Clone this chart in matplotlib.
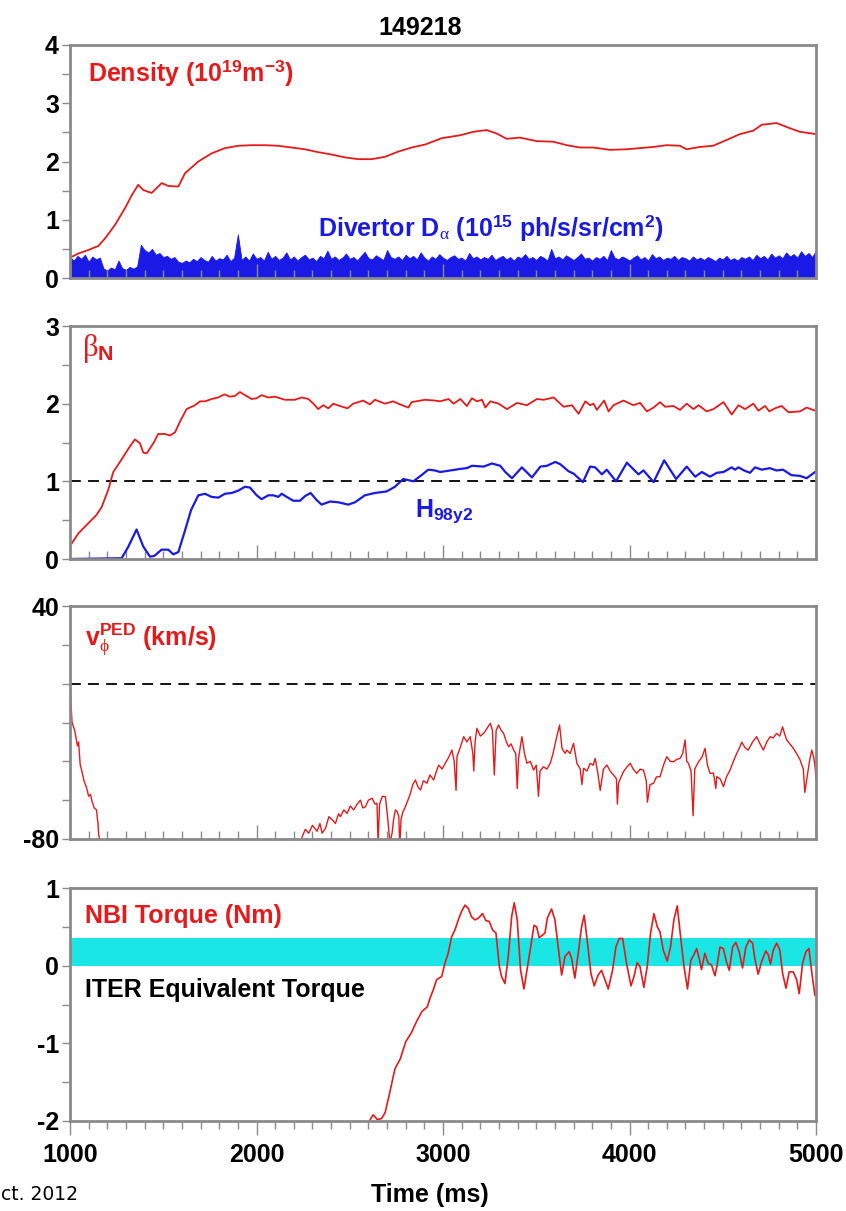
import numpy as np
import matplotlib
matplotlib.use("Agg")
import matplotlib.pyplot as plt
from matplotlib.ticker import MultipleLocator, FixedLocator

plt.rcParams['font.family'] = ['Liberation Sans', 'DejaVu Sans']
plt.rcParams['axes.unicode_minus'] = False
plt.rcParams['mathtext.fontset'] = 'custom'
plt.rcParams['mathtext.rm'] = 'Liberation Sans:weight=bold'
plt.rcParams['mathtext.bf'] = 'Liberation Sans:weight=bold'
plt.rcParams['mathtext.it'] = 'Liberation Serif:weight=normal'
plt.rcParams['mathtext.sf'] = 'Liberation Sans:weight=bold'

RED = '#e61a1a'
BLUE = '#1a1ae6'
CYAN = '#1ae6e6'
GRAY = '#8a8a8a'

# ---------------- data ----------------
shot = "149218"

dens_t = [1000, 1045, 1098, 1152, 1188, 1241, 1295, 1331, 1366, 1393, 1438, 1492, 1527,
          1581, 1617, 1688, 1760, 1831, 1902, 1974, 2045, 2117, 2188, 2260, 2331, 2403,
          2475, 2546, 2617, 2689, 2760, 2832, 2903, 2993, 3091, 3163, 3234, 3288, 3341,
          3413, 3502, 3592, 3664, 3735, 3806, 3896, 3985, 4056, 4128, 4199, 4271, 4306,
          4378, 4449, 4521, 4592, 4664, 4709, 4789, 4861, 4914, 5000]
dens_v = [0.35, 0.42, 0.48, 0.55, 0.68, 0.91, 1.20, 1.42, 1.60, 1.51, 1.46, 1.63, 1.58,
          1.57, 1.80, 2.00, 2.14, 2.23, 2.27, 2.28, 2.28, 2.27, 2.24, 2.21, 2.16, 2.12,
          2.07, 2.04, 2.04, 2.08, 2.17, 2.24, 2.29, 2.40, 2.45, 2.51, 2.54, 2.48, 2.39,
          2.41, 2.35, 2.34, 2.28, 2.24, 2.24, 2.20, 2.21, 2.23, 2.25, 2.28, 2.27, 2.21,
          2.25, 2.27, 2.37, 2.47, 2.53, 2.63, 2.66, 2.57, 2.51, 2.47]

# Divertor D-alpha upper envelope, sampled every 20 ms from 1000 to 5000 ms
dalpha_t = np.arange(1000, 5001, 20)
dalpha_v = [0.36, 0.30, 0.38, 0.33, 0.40, 0.28, 0.37, 0.32, 0.35,
            0.16, 0.13, 0.18, 0.15, 0.30, 0.17, 0.14, 0.19, 0.16, 0.20,
            0.57, 0.48, 0.44, 0.50, 0.40, 0.43, 0.36, 0.38, 0.33, 0.36, 0.28, 0.26,
            0.30, 0.27, 0.33, 0.29, 0.36, 0.31, 0.28, 0.38, 0.30, 0.34,
            0.32, 0.40, 0.29, 0.35, 0.75, 0.31, 0.37, 0.30, 0.42, 0.33,
            0.36, 0.30, 0.45, 0.33, 0.38, 0.31, 0.35, 0.44, 0.32, 0.37,
            0.30, 0.36, 0.40, 0.32, 0.35, 0.29, 0.38, 0.34, 0.47, 0.33,
            0.37, 0.31, 0.35, 0.42, 0.33, 0.36, 0.30, 0.38, 0.45, 0.34,
            0.32, 0.39, 0.35, 0.31, 0.48, 0.36, 0.33, 0.37, 0.31, 0.40,
            0.34, 0.38, 0.32, 0.44, 0.35, 0.30, 0.37, 0.33, 0.41, 0.35,
            0.31, 0.36, 0.39, 0.33, 0.35, 0.30, 0.43, 0.34, 0.37, 0.32,
            0.36, 0.33, 0.40, 0.31, 0.35, 0.38, 0.32, 0.36, 0.30, 0.37,
            0.34, 0.41, 0.33, 0.36, 0.31, 0.38, 0.35, 0.30, 0.50, 0.34,
            0.37, 0.32, 0.39, 0.35, 0.31, 0.36, 0.42, 0.33, 0.35, 0.30,
            0.36, 0.33, 0.38, 0.31, 0.48, 0.35, 0.32, 0.37, 0.34, 0.30,
            0.35, 0.39, 0.32, 0.36, 0.30, 0.41, 0.34, 0.37, 0.31, 0.35,
            0.33, 0.38, 0.31, 0.36, 0.34, 0.30, 0.37, 0.32, 0.35, 0.31,
            0.36, 0.33, 0.29, 0.35, 0.32, 0.38, 0.31, 0.34, 0.30, 0.36,
            0.33, 0.37, 0.31, 0.40, 0.34, 0.38, 0.32, 0.42, 0.35, 0.39,
            0.34, 0.44, 0.37, 0.41, 0.35, 0.46, 0.38, 0.43, 0.36, 0.48]

betan_t = [1009, 1045, 1098, 1143, 1170, 1205, 1232, 1268, 1313, 1348, 1375, 1393, 1411,
           1447, 1473, 1509, 1536, 1563, 1590, 1625, 1670, 1697, 1724, 1759, 1795, 1827,
           1858, 1885, 1911, 1938, 1974, 2001, 2027, 2063, 2099, 2153, 2206, 2242, 2278,
           2305, 2331, 2358, 2385, 2412, 2447, 2488, 2519, 2572, 2608, 2635, 2689, 2733,
           2760, 2814, 2832, 2903, 2957, 2985, 3030, 3057, 3093, 3128, 3155, 3182, 3209,
           3227, 3254, 3298, 3343, 3397, 3450, 3504, 3540, 3593, 3647, 3691, 3727, 3763,
           3789, 3807, 3825, 3864, 3888, 3914, 3968, 4021, 4057, 4093, 4129, 4164, 4191,
           4236, 4271, 4307, 4343, 4370, 4414, 4450, 4504, 4548, 4584, 4620, 4664, 4691,
           4727, 4750, 4780, 4816, 4852, 4914, 4950, 4995]
betan_v = [0.20, 0.33, 0.46, 0.57, 0.67, 0.89, 1.12, 1.25, 1.42, 1.54, 1.49, 1.37, 1.36,
           1.49, 1.61, 1.61, 1.59, 1.63, 1.77, 1.93, 1.98, 2.03, 2.03, 2.06, 2.08, 2.12,
           2.09, 2.10, 2.15, 2.11, 2.06, 2.07, 2.11, 2.08, 2.09, 2.05, 2.05, 2.08, 2.06,
           2.00, 1.93, 1.98, 1.94, 2.00, 1.97, 1.94, 2.00, 2.04, 1.99, 2.05, 2.00, 2.03,
           2.00, 1.95, 2.02, 2.05, 2.04, 2.03, 2.06, 2.00, 2.06, 1.97, 2.07, 2.03, 2.05,
           1.95, 2.03, 2.00, 1.93, 2.01, 1.98, 2.06, 2.05, 2.08, 1.96, 1.98, 1.87, 2.03,
           1.98, 2.00, 1.92, 2.04, 1.90, 1.98, 2.04, 1.98, 2.01, 1.90, 1.95, 2.02, 1.96,
           1.97, 1.92, 2.00, 1.93, 1.98, 1.90, 1.93, 2.02, 1.86, 1.98, 1.93, 2.00, 1.91,
           1.97, 1.90, 1.94, 1.97, 1.89, 1.90, 1.95, 1.91]

h98_t = [1000, 1277, 1313, 1357, 1393, 1429, 1452, 1491, 1527, 1554, 1581, 1617, 1649,
         1688, 1724, 1759, 1795, 1831, 1867, 1902, 1938, 1965, 2001, 2027, 2063, 2090,
         2117, 2135, 2162, 2197, 2233, 2260, 2290, 2322, 2349, 2394, 2439, 2492, 2528,
         2581, 2635, 2698, 2742, 2787, 2841, 2885, 2921, 2957, 2985, 3039, 3093, 3128,
         3155, 3218, 3263, 3307, 3334, 3370, 3423, 3477, 3522, 3557, 3602, 3629, 3673,
         3700, 3750, 3789, 3816, 3852, 3878, 3928, 3986, 4048, 4075, 4129, 4186, 4250,
         4307, 4352, 4388, 4432, 4468, 4504, 4548, 4566, 4584, 4614, 4646, 4673, 4709,
         4752, 4788, 4823, 4868, 4914, 4950, 4995]
h98_v = [0.00, 0.01, 0.16, 0.38, 0.16, 0.03, 0.04, 0.12, 0.12, 0.06, 0.09, 0.37, 0.63,
         0.82, 0.84, 0.80, 0.79, 0.84, 0.85, 0.88, 0.93, 0.92, 0.82, 0.77, 0.82, 0.82,
         0.80, 0.84, 0.80, 0.75, 0.75, 0.81, 0.85, 0.76, 0.70, 0.74, 0.73, 0.70, 0.73,
         0.82, 0.85, 0.87, 0.93, 1.03, 1.00, 1.08, 1.15, 1.14, 1.12, 1.14, 1.16, 1.17,
         1.20, 1.19, 1.23, 1.20, 1.12, 1.04, 1.18, 1.05, 1.19, 1.20, 1.25, 1.22, 1.13,
         1.10, 0.99, 1.19, 1.18, 1.09, 1.15, 1.00, 1.24, 1.09, 1.14, 0.99, 1.27, 1.03,
         1.19, 1.06, 1.12, 1.06, 1.11, 1.12, 1.18, 1.15, 1.18, 1.14, 1.11, 1.18, 1.15,
         1.17, 1.14, 1.15, 1.08, 1.07, 1.04, 1.12]

vphi_t = [1000, 1005, 1011, 1025, 1040, 1046, 1055, 1061, 1075, 1090, 1100, 1110, 1119,
          1130, 1142, 1150, 1154, 1162, 1200, 2200, 2230, 2245, 2262, 2280, 2300, 2325,
          2340, 2352, 2370, 2388, 2405, 2423, 2440, 2450, 2468, 2486, 2503, 2521, 2540,
          2557, 2570, 2584, 2600, 2620, 2635, 2646, 2652, 2660, 2675, 2691, 2700, 2709,
          2715, 2727, 2735, 2745, 2755, 2763, 2768, 2775, 2785, 2798, 2812, 2825, 2838,
          2852, 2865, 2879, 2895, 2914, 2930, 2950, 2965, 2977, 2995, 3012, 3030, 3048,
          3060, 3070, 3075, 3092, 3111, 3128, 3146, 3160, 3165, 3172, 3182, 3200, 3218,
          3236, 3254, 3265, 3275, 3285, 3298, 3312, 3325, 3340, 3352, 3365, 3379, 3390,
          3398, 3405, 3423, 3437, 3450, 3468, 3486, 3500, 3512, 3520, 3539, 3557, 3575,
          3590, 3602, 3625, 3638, 3655, 3664, 3682, 3700, 3718, 3736, 3745, 3754, 3772,
          3789, 3805, 3816, 3830, 3843, 3860, 3879, 3896, 3914, 3930, 3935, 3941, 3955,
          3968, 3985, 4004, 4020, 4039, 4057, 4075, 4090, 4096, 4110, 4129, 4145, 4164,
          4182, 4200, 4218, 4236, 4253, 4271, 4285, 4298, 4307, 4316, 4330, 4341, 4350,
          4370, 4388, 4405, 4418, 4432, 4450, 4463, 4468, 4486, 4504, 4520, 4539, 4557,
          4575, 4590, 4602, 4620, 4637, 4660, 4682, 4700, 4718, 4736, 4754, 4770, 4789,
          4805, 4821, 4832, 4843, 4860, 4879, 4896, 4914, 4932, 4940, 4950, 4965, 4977,
          4988, 4995, 5000]
vphi_v = [0, -10, -20, -24, -32, -30, -42, -44, -50, -54, -58, -57, -61,
          -64, -65, -72, -78, -82, -100, -100, -85, -78.8, -75, -77, -73, -76,
          -72, -77, -74.5, -68.5, -70, -72, -67, -68.5, -65, -66.8, -63, -65, -62,
          -60, -64, -63.4, -60, -59, -62, -61.6, -82, -62, -58, -58.2, -66, -75,
          -82, -77, -70, -65, -66, -68.5, -84, -70, -66, -63.4, -60, -56.5, -52,
          -49.6, -53, -54.8, -50, -51.3, -47, -49.6, -45, -41.9, -44, -41, -38, -34.2,
          -40, -55, -37.6, -33, -27.3, -30, -27.3, -36, -45, -30, -23, -27, -25.6,
          -23, -20.4, -24, -47, -24, -21.3, -24, -25.6, -30, -32.5, -31, -34.2, -36,
          -54, -38.5, -27.3, -36, -41, -40, -44.5, -42, -58, -45, -42.8, -44, -41,
          -36, -30.7, -21.3, -33.3, -35.9, -34.2, -36, -30.7, -41, -44, -52, -43.6, -45,
          -41, -42, -38.5, -46, -55, -44, -41.9, -45, -47, -49, -62, -51.3, -48,
          -45.3, -43, -41, -44, -46.2, -44, -44.5, -50, -61, -52, -51.3, -48, -47.9,
          -42, -37.6, -40, -40.2, -39, -38.5, -36, -29, -40, -41, -45, -68, -44,
          -40.2, -38, -33.3, -42, -46.2, -46, -54, -47.9, -49, -53, -48, -44.5, -40,
          -35.9, -33, -30.1, -33, -34.2, -30, -27.3, -31, -34.2, -30, -27.3, -28, -25.6,
          -27, -22.2, -26, -29, -31, -33.3, -36, -39.1, -44, -56, -49.6, -40, -34.2,
          -38, -42.8, -49.6]

torque_t = [1000, 2600, 2612, 2626, 2647, 2670, 2690, 2713, 2742, 2771, 2800, 2829, 2858,
            2887, 2916, 2930, 2948, 2966, 2993, 3010, 3028, 3046, 3064, 3082, 3100, 3118,
            3135, 3153, 3171, 3189, 3212, 3230, 3248, 3266, 3284, 3302, 3314, 3332, 3350,
            3368, 3382, 3398, 3416, 3434, 3452, 3470, 3488, 3502, 3516, 3547, 3559, 3582,
            3600, 3618, 3636, 3654, 3677, 3690, 3707, 3725, 3743, 3757, 3775, 3793, 3811,
            3832, 3850, 3868, 3886, 3909, 3927, 3945, 3963, 3984, 4008, 4024, 4041, 4056,
            4077, 4095, 4113, 4131, 4149, 4163, 4181, 4202, 4220, 4238, 4256, 4274, 4292,
            4311, 4329, 4345, 4360, 4374, 4386, 4404, 4422, 4440, 4458, 4470, 4485, 4503,
            4520, 4535, 4553, 4570, 4588, 4606, 4624, 4642, 4660, 4672, 4690, 4708, 4731,
            4744, 4756, 4771, 4789, 4806, 4821, 4839, 4856, 4878, 4896, 4910, 4928, 4946,
            4962, 4976, 4994]
torque_v = [-3.0, -2.05, -1.97, -1.92, -1.98, -1.97, -1.89, -1.65, -1.33, -1.20, -0.98, -0.87, -0.72,
            -0.59, -0.53, -0.42, -0.31, -0.18, -0.14, 0.03, 0.16, 0.37, 0.46, 0.59, 0.70, 0.78,
            0.74, 0.63, 0.59, 0.61, 0.67, 0.58, 0.57, 0.46, 0.42, -0.01, -0.14, -0.23, 0.12,
            0.63, 0.81, 0.59, -0.06, -0.30, -0.03, 0.24, 0.52, 0.50, 0.36, 0.42, 0.61, 0.73,
            0.59, 0.24, -0.12, 0.12, 0.18, 0.09, -0.16, 0.16, 0.50, 0.65, 0.29, -0.10, -0.26,
            -0.12, -0.06, -0.18, -0.30, -0.06, 0.24, 0.35, 0.35, 0.03, -0.26, -0.14, 0.04, -0.01,
            -0.28, -0.01, 0.42, 0.67, 0.50, 0.44, 0.20, 0.06, 0.24, 0.59, 0.77, 0.37, -0.01,
            -0.30, 0.07, 0.14, 0.22, 0.09, -0.05, 0.16, 0.03, 0.01, -0.13, 0.01, 0.24, 0.22,
            0.05, -0.06, 0.24, 0.30, 0.18, -0.03, 0.24, 0.33, 0.29, 0.09, -0.11, 0.05, 0.19,
            0.14, 0.02, 0.20, 0.29, 0.20, -0.10, -0.29, -0.08, -0.08, -0.18, -0.36, 0.03, 0.18,
            0.22, -0.06, -0.38]

iter_band = (0.0, 0.35)
betan_ref = 1.0
vphi_ref = 0.0
x_ticks = [1000, 2000, 3000, 4000, 5000]

# ---------------- layout ----------------
W, H = 846, 1211
fig = plt.figure(figsize=(W / 100, H / 100), dpi=100)

L, R = 70, 816
panels = [(45, 278), (326, 559), (606, 839), (888, 1121)]
axes = []
for top, bot in panels:
    ax = fig.add_axes([L / W, 1 - bot / H, (R - L) / W, (bot - top) / H])
    axes.append(ax)

def style(ax, bottom_out=False):
    ax.set_xlim(1000, 5000)
    for s in ax.spines.values():
        s.set_color(GRAY)
        s.set_linewidth(2.0)
    ax.xaxis.set_major_locator(FixedLocator(x_ticks))
    ax.xaxis.set_minor_locator(MultipleLocator(100))
    if bottom_out:
        ax.tick_params(axis='x', which='major', direction='out', length=10, width=1,
                       color=GRAY, labelsize=18, pad=6)
        ax.tick_params(axis='x', which='minor', direction='out', length=6, width=1, color=GRAY)
    else:
        ax.tick_params(axis='x', which='major', direction='in', length=10, width=1,
                       color=GRAY, labelbottom=False)
        ax.tick_params(axis='x', which='minor', direction='in', length=6, width=1, color=GRAY)
    ax.tick_params(axis='y', which='both', direction='out', length=6, width=1,
                   color=GRAY, labelsize=18, pad=2)

# Panel 1: density and D-alpha
ax = axes[0]
ax.fill_between(dalpha_t, 0, dalpha_v, color=BLUE, lw=0.6, edgecolor=BLUE)
ax.plot(dens_t, dens_v, color=RED, lw=1.3)
ax.set_ylim(0, 4)
ax.yaxis.set_major_locator(MultipleLocator(1))
ax.yaxis.set_minor_locator(MultipleLocator(0.5))
style(ax)
ax.text(0.024, 0.88, r'Density (10$^{19}$m$^{-3}$)', transform=ax.transAxes,
        color=RED, fontsize=18, fontweight='bold', va='center', ha='left')
ax.text(0.332, 0.215, r'Divertor D$_{\mathit{\alpha}}$ (10$^{15}$ ph/s/sr/cm$^{2}$)',
        transform=ax.transAxes, color=BLUE, fontsize=18, fontweight='bold',
        va='center', ha='left')

# Panel 2: beta_N and H98
ax = axes[1]
ax.axhline(betan_ref, color='black', lw=1.3, ls=(0, (6, 4)))
ax.plot(betan_t, betan_v, color=RED, lw=1.3)
ax.plot(h98_t, h98_v, color=BLUE, lw=1.6)
ax.set_ylim(0, 3)
ax.yaxis.set_major_locator(MultipleLocator(1))
ax.yaxis.set_minor_locator(MultipleLocator(0.5))
style(ax)
ax.text(0.016, 0.905, r'$\mathit{\beta}_{\mathbf{N}}$', transform=ax.transAxes,
        color=RED, fontsize=22, va='center', ha='left')
ax.text(0.462, 0.20, r'H$_{\mathbf{98y2}}$', transform=ax.transAxes,
        color=BLUE, fontsize=18, fontweight='bold', va='center', ha='left')

# Panel 3: pedestal rotation
ax = axes[2]
ax.axhline(vphi_ref, color='black', lw=1.3, ls=(0, (6, 4)))
ax.plot(vphi_t, vphi_v, color=RED, lw=1.0)
ax.set_ylim(-80, 40)
ax.yaxis.set_major_locator(FixedLocator([-80, 40]))
ax.yaxis.set_minor_locator(FixedLocator([-60, -40, -20, 0, 20]))
style(ax)
ax.text(0.02, 0.855, r'v$_{\mathit{\phi}}^{\mathbf{PED}}$ (km/s)', transform=ax.transAxes,
        color=RED, fontsize=18, fontweight='bold', va='center', ha='left')

# Panel 4: NBI torque
ax = axes[3]
ax.axhspan(iter_band[0], iter_band[1], color=CYAN, lw=0)
ax.plot(torque_t, torque_v, color=RED, lw=1.2)
ax.set_ylim(-2, 1)
ax.yaxis.set_major_locator(MultipleLocator(1))
ax.yaxis.set_minor_locator(MultipleLocator(0.5))
style(ax, bottom_out=True)
ax.text(0.02, 0.88, 'NBI Torque (Nm)', transform=ax.transAxes,
        color=RED, fontsize=18, fontweight='bold', va='center', ha='left')
ax.text(0.02, 0.562, 'ITER Equivalent Torque', transform=ax.transAxes,
        color='black', fontsize=18, fontweight='bold', va='center', ha='left')

for a in axes:
    for lb in a.get_yticklabels() + a.get_xticklabels():
        lb.set_fontweight('bold')

fig.text(420 / W, 1 - 28 / H, shot, ha='center', va='center', fontsize=18, fontweight='bold')
fig.text(430 / W, 1 - 1195 / H, 'Time (ms)', ha='center', va='center', fontsize=18,
         fontweight='bold')
fig.text(1 / W, 1 - 1195 / H, 'ct. 2012', ha='left', va='center', fontsize=13.5,
         fontweight='normal', family='DejaVu Sans')

fig.savefig('out.png', dpi=100)
